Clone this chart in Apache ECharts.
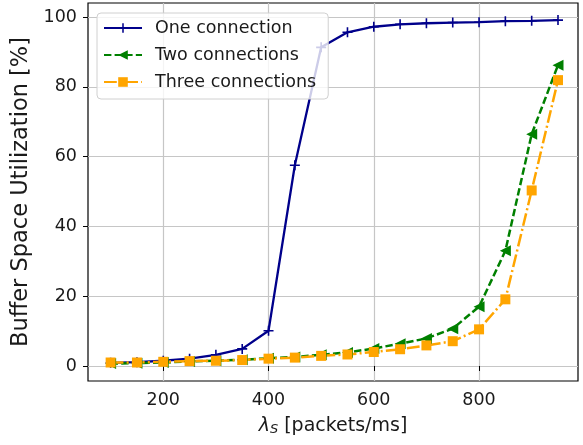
<!DOCTYPE html>
<html>
<head>
<meta charset="utf-8">
<script src="https://cdn.jsdelivr.net/npm/echarts@6/dist/echarts.min.js"></script>
<style>
  html, body { margin: 0; padding: 0; background: #fff; }
  #chart { width: 583px; height: 445px; }
</style>
</head>
<body>
<div id="chart"></div>
<script>
// Arrival rate (packets/ms)
const rates = [100, 150, 200, 250, 300, 350, 400, 450, 500, 550, 600, 650, 700, 750, 800, 850, 900, 950];

// Buffer space utilization (%) per number of connections
const oneConnection = [0.9, 1.1, 1.5, 2.1, 3.2, 4.9, 10.1, 57.5, 91.3, 95.6, 97.2, 97.9, 98.2, 98.4, 98.5, 98.8, 98.9, 99.1];
const twoConnections = [0.7, 0.8, 1.0, 1.3, 1.5, 1.8, 2.2, 2.6, 3.2, 3.9, 5.0, 6.4, 7.9, 10.7, 17.0, 33.0, 66.4, 86.2];
const threeConnections = [1.0, 1.0, 1.2, 1.4, 1.5, 1.7, 2.1, 2.4, 2.9, 3.3, 4.0, 4.8, 5.9, 7.1, 10.5, 19.1, 50.3, 81.9];

const seriesNames = ['One connection', 'Two connections', 'Three connections'];

// Tick positions
const xTicks = [200, 400, 600, 800];
const yTicks = [0, 20, 40, 60, 80, 100];

const pairs = (ys) => rates.map((x, i) => [x, ys[i]]);

const FONT = 'DejaVu Sans';
const TEXT = '#1a1a1a';
const GRID = '#c6c6c6';

// "+" marker drawn as a thin filled cross
const PLUS = 'path://M-1.6,-10H1.6V-1.6H10V1.6H1.6V10H-1.6V1.6H-10V-1.6H-1.6Z';

const chart = echarts.init(document.getElementById('chart'), null, { renderer: 'canvas' });

chart.setOption({
  animation: false,
  backgroundColor: '#fff',
  textStyle: { fontFamily: FONT },
  grid: {
    left: 88, right: 5, top: 3, bottom: 64,
    show: true, borderColor: '#000', borderWidth: 1.2, backgroundColor: 'transparent'
  },
  legend: {
    z: 20,
    orient: 'vertical',
    left: 97, top: 13,
    padding: [6, 12, 8, 6],
    itemGap: 9,
    itemWidth: 38,
    itemHeight: 12,
    backgroundColor: 'rgba(255,255,255,0.8)',
    borderColor: '#d0d0d0',
    borderWidth: 1,
    borderRadius: 4,
    textStyle: { fontFamily: FONT, fontSize: 17.5, color: TEXT, lineHeight: 18, padding: [0, 0, 0, 8] },
    data: seriesNames
  },
  xAxis: {
    type: 'value',
    min: 57, max: 988,
    name: '{l|λ}{s|S} {t|[packets/ms]}',
    nameLocation: 'middle',
    nameGap: 35,
    nameTextStyle: {
      color: TEXT, fontFamily: FONT, fontSize: 19,
      rich: {
        l: { fontFamily: FONT, fontSize: 19, fontStyle: 'italic', color: TEXT },
        s: { fontFamily: FONT, fontSize: 13, fontStyle: 'italic', color: TEXT, verticalAlign: 'bottom', padding: [7, 0, 0, 0] },
        t: { fontFamily: FONT, fontSize: 19, color: TEXT }
      }
    },
    axisLine: { show: false },
    axisTick: { show: true, inside: false, length: 5, lineStyle: { color: '#000', width: 1 }, customValues: xTicks },
    axisLabel: { show: true, margin: 10, fontFamily: FONT, fontSize: 17.5, color: TEXT, customValues: xTicks },
    splitLine: { show: true, lineStyle: { color: GRID, width: 1.2 } }
  },
  yAxis: {
    type: 'value',
    min: -4.3, max: 104,
    name: 'Buffer Space Utilization [%]',
    nameLocation: 'middle',
    nameGap: 51,
    nameTextStyle: { color: TEXT, fontFamily: FONT, fontSize: 22.5 },
    axisLine: { show: false },
    axisTick: { show: true, inside: false, length: 5, lineStyle: { color: '#000', width: 1 }, customValues: yTicks },
    axisLabel: { show: true, margin: 11, fontFamily: FONT, fontSize: 17.5, color: TEXT, customValues: yTicks },
    splitLine: { show: true, lineStyle: { color: GRID, width: 1.2 } }
  },
  series: [
    {
      name: seriesNames[0],
      type: 'line',
      data: pairs(oneConnection),
      symbol: PLUS,
      symbolSize: 10,
      showAllSymbol: true,
      lineStyle: { color: '#00008b', width: 2.3 },
      itemStyle: { color: '#00008b' },
      z: 2
    },
    {
      name: seriesNames[1],
      type: 'line',
      data: pairs(twoConnections),
      symbol: 'triangle',
      symbolRotate: 90,
      symbolSize: 11,
      showAllSymbol: true,
      lineStyle: { color: '#008000', width: 2.5, type: [7.4, 3.2] },
      itemStyle: { color: '#008000' },
      z: 2
    },
    {
      name: seriesNames[2],
      type: 'line',
      data: pairs(threeConnections),
      symbol: 'rect',
      symbolSize: 10,
      showAllSymbol: true,
      lineStyle: { color: '#ffa500', width: 2.5, type: [12.8, 3.2, 2, 3.2] },
      itemStyle: { color: '#ffa500' },
      z: 2
    }
  ]
});
</script>
</body>
</html>
